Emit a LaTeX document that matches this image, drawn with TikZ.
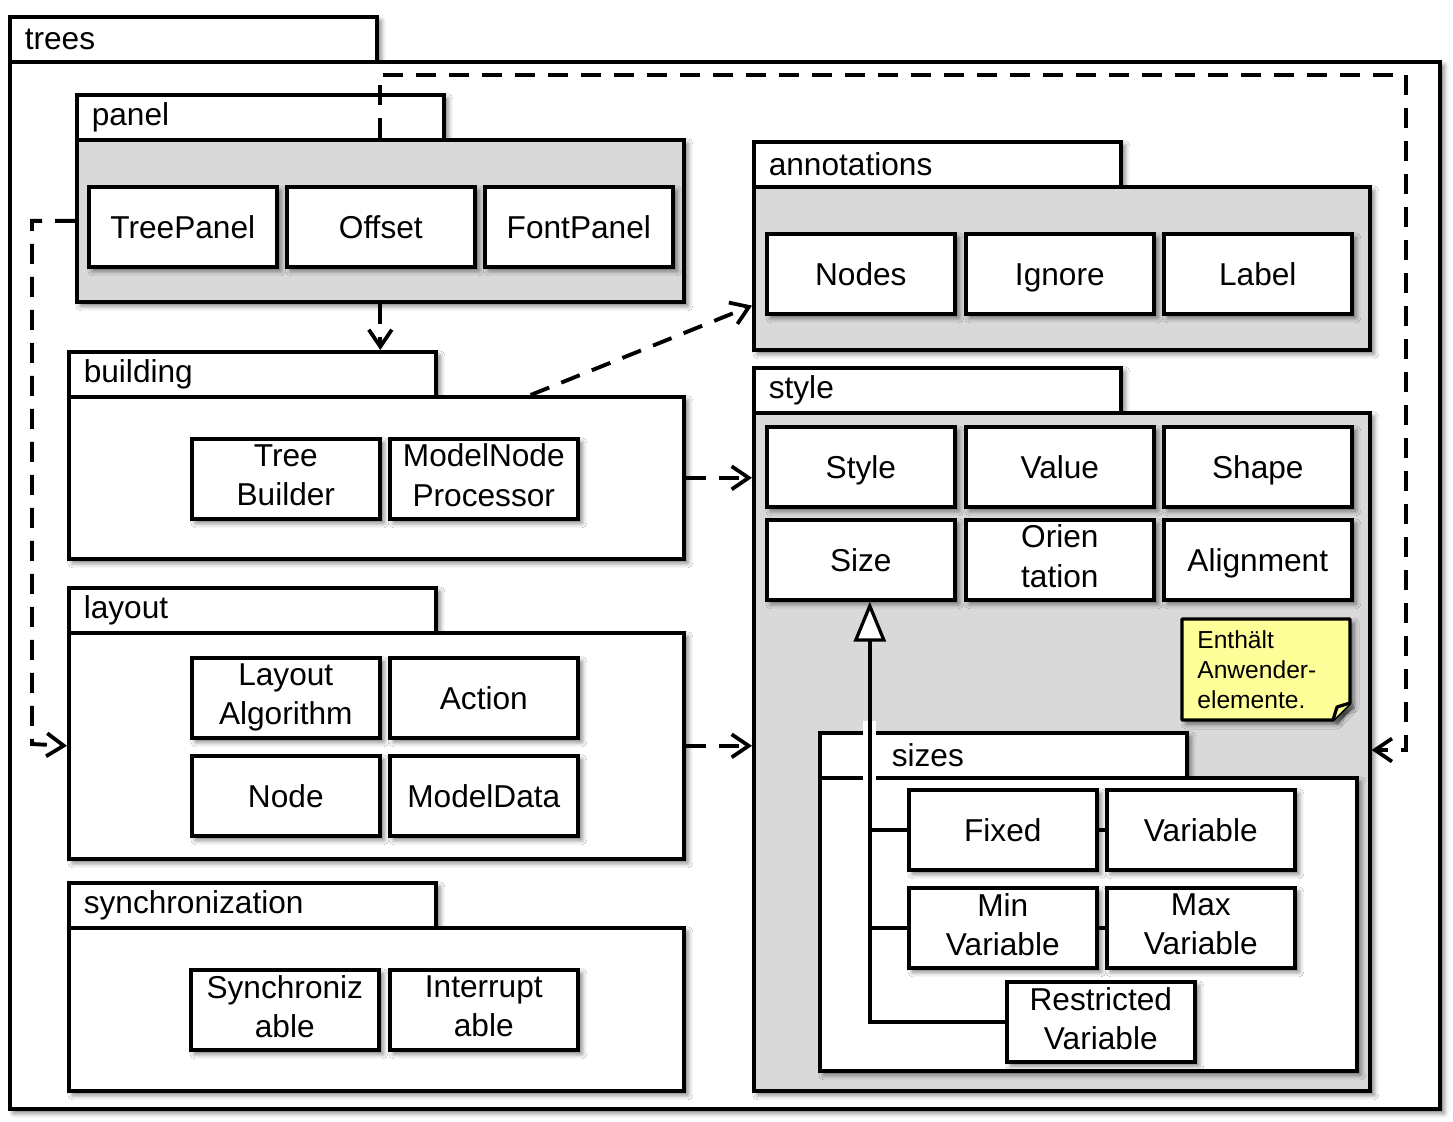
\documentclass[tikz,border=0pt]{standalone}
\usepackage{fontspec}
\setmainfont{Liberation Sans}
\usetikzlibrary{positioning, arrows.meta, shadows.blur}

\definecolor{pkggray}{RGB}{217,217,217}
\definecolor{noteyellow}{RGB}{255,255,153}

% strut that keeps caps centred
\newcommand{\clsstrut}{\vrule height 17pt depth 4.1pt width 0pt}

\begin{document}
\begin{tikzpicture}[
  x=0.2mm, y=-0.2mm,
  % Shadow shared by all boxes
  boxshadow/.style={blur shadow={shadow xshift=0.8mm, shadow yshift=-0.8mm, shadow blur radius=1mm, shadow opacity=55}},
  % Package Styles
  tabnode/.style={rectangle, draw, line width=0.72mm, fill=white, anchor=north west, minimum height=9mm, inner xsep=3mm, text width=67.4mm, align=left, font=\fontsize{18}{22}\selectfont, boxshadow},
  pkgnode/.style={rectangle, draw, line width=0.72mm, fill=#1, anchor=north west, inner sep=0pt, boxshadow},
  % Class Styles
  clsnode/.style={rectangle, draw, line width=0.72mm, fill=white, anchor=north west, minimum width=37.6mm, minimum height=16mm, inner sep=0pt, align=center, font=\fontsize{18}{22.4}\selectfont, execute at begin node=\clsstrut, execute at end node=\clsstrut, boxshadow},
  % Note
  notebox/.style={draw, line width=0.65mm, fill=noteyellow, line join=round, boxshadow},
  notenode/.style={anchor=north west, minimum height=20.2mm, inner xsep=3mm, text width=27.6mm, align=left, font=\fontsize{14}{17}\selectfont},
  % Arrow Styles
  dasharrow/.style={-{Straight Barb[length=3.4mm, width=4.6mm, line width=0.75mm]}, line width=0.78mm, dash pattern=on 4mm off 2.6mm},
  genline/.style={line width=0.75mm},
  genarrow/.style={-{Triangle[length=8mm, width=6.4mm, fill=white, line width=0.65mm]}, line width=0.75mm}
]
\useasboundingbox (0,0) rectangle (1453,1121);

% trees
\node[tabnode] (treesTab) at (8,15) {trees};
\node[pkgnode=white, minimum width=286mm, minimum height=209.4mm] (treesBody) at (8,60) {};

% panel
\node[tabnode] (panelTab) at (75,93) {panel};
\node[pkgnode=pkggray, minimum width=121.4mm, minimum height=32.4mm] (panelBody) at (75,138) {};
\node[clsnode] (TreePanel) at (87,185) {TreePanel};
\node[clsnode] (Offset) at (285,185) {Offset};
\node[clsnode] (FontPanel) at (483,185) {FontPanel};

% annotations
\node[tabnode] (annotationsTab) at (752,140) {annotations};
\node[pkgnode=pkggray, minimum width=123.2mm, minimum height=32.6mm] (annotationsBody) at (752,185) {};
\node[clsnode] (Nodes) at (765,232) {Nodes};
\node[clsnode] (Ignore) at (964,232) {Ignore};
\node[clsnode] (Label) at (1162,232) {Label};

% building
\node[tabnode] (buildingTab) at (67,350) {building};
\node[pkgnode=white, minimum width=123mm, minimum height=32.4mm] (buildingBody) at (67,395) {};
\node[clsnode] (TreeBuilder) at (190,437) {Tree\\Builder};
\node[clsnode] (ModelNodeProcessor) at (388,437) {ModelNode\\Processor};

% layout
\node[tabnode] (layoutTab) at (67,586) {layout};
\node[pkgnode=white, minimum width=123mm, minimum height=45.2mm] (layoutBody) at (67,631) {};
\node[clsnode] (LayoutAlgorithm) at (190,656) {Layout\\Algorithm};
\node[clsnode] (Action) at (388,656) {Action};
\node[clsnode] (Node) at (190,754) {Node};
\node[clsnode] (ModelData) at (388,754) {ModelData};

% synchronization
\node[tabnode] (syncTab) at (67,881) {synchronization};
\node[pkgnode=white, minimum width=123mm, minimum height=32.6mm] (syncBody) at (67,926) {};
\node[clsnode] (Synchronizable) at (189,968) {Synchroniz\\able};
\node[clsnode] (Interruptable) at (388,968) {Interrupt\\able};

% style
\node[tabnode] (styleTab) at (752,366) {style};
\node[pkgnode=pkggray, minimum width=123.2mm, minimum height=135.6mm] (styleBody) at (752,411) {};
\node[clsnode] (Style) at (765,425) {Style};
\node[clsnode] (Value) at (964,425) {Value};
\node[clsnode] (Shape) at (1162,425) {Shape};
\node[clsnode] (Size) at (765,518) {Size};
\node[clsnode] (Orientation) at (964,518) {Orien\\tation};
\node[clsnode] (Alignment) at (1162,518) {Alignment};

% note
\coordinate (noteNW) at (1182,619);
\coordinate (noteSE) at (1350,720);
\draw[notebox] (noteNW) -| ([yshift=3.4mm]noteSE) -- ([xshift=-3.4mm]noteSE) -| (noteNW) -- cycle;
\draw[notebox] ([yshift=3.4mm]noteSE) -- ++(-2.6mm,-0.8mm) -- ([xshift=-3.4mm]noteSE);
\node[notenode] (note) at (noteNW) {Enthält\\Anwender-\\elemente.};

% sizes
\node[tabnode] (sizesTab) at (818,731) {\hspace*{11.4mm}sizes};
\node[pkgnode=white, minimum width=107.4mm, minimum height=58.6mm] (sizesBody) at (818,776) {};
\node[clsnode] (Fixed) at (907,788) {Fixed};
\node[clsnode] (Variable) at (1105,788) {Variable};
\node[clsnode] (MinVariable) at (907,886) {Min\\Variable};
\node[clsnode] (MaxVariable) at (1105,886) {Max\\Variable};
\node[clsnode] (RestrictedVariable) at (1005,980) {Restricted\\Variable};

% generalization
\coordinate (genTip) at ([xshift=1.8mm]Size.south);
\draw[white, line width=2.6mm] ([yshift=2mm]sizesTab.north -| genTip) -- ([yshift=-3mm]sizesTab.south -| genTip);
\draw[genarrow] (RestrictedVariable.west) -| (genTip);
\draw[genline] (Fixed.west) -- (Fixed.west -| genTip);
\draw[genline] (MinVariable.west) -- (MinVariable.west -| genTip);
\draw[genline] (Fixed.east) -- (Variable.west);
\draw[genline] (MinVariable.east) -- (MaxVariable.west);

% dependencies
\coordinate (loopR) at (1406,750);
\coordinate (loopL) at (32,744);
\draw[dasharrow] (panelBody.north) -- ++(0,-63) -| (loopR) -- (loopR -| styleBody.east);
\draw[dasharrow] (panelBody.west) -| (loopL) -- (layoutBody.west);
\draw[dasharrow] (panelBody.south) -- (panelBody.south |- buildingTab.north);
\draw[dasharrow] ([xshift=-31mm]buildingBody.north east) -- ([yshift=9.2mm]annotationsBody.south west);
\draw[dasharrow] (buildingBody.east) -- (buildingBody.east -| styleBody.west);
\draw[dasharrow] (layoutBody.east) -- (layoutBody.east -| styleBody.west);

\end{tikzpicture}
\end{document}
